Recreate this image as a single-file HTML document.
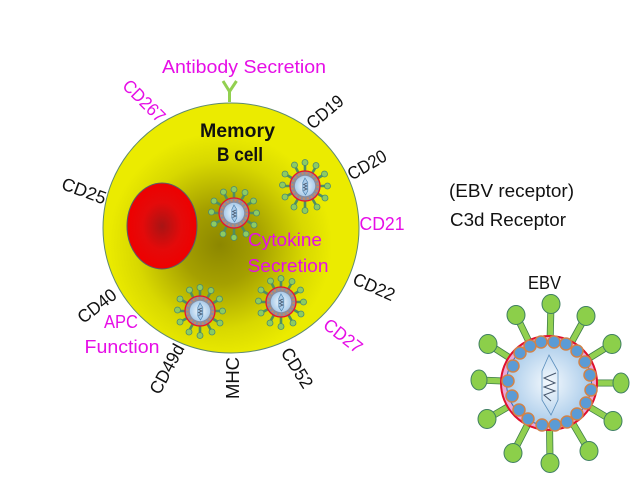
<!DOCTYPE html>
<html><head><meta charset="utf-8"><style>
html,body{margin:0;padding:0;background:#fff}
svg{display:block}
text{font-family:"Liberation Sans",sans-serif;font-size:18px;fill:#111}
.m{fill:#e60ee6}
.c{text-anchor:middle}
.b{font-weight:bold;font-size:19px}
</style></head><body>
<svg width="640" height="480" viewBox="0 0 640 480" xmlns="http://www.w3.org/2000/svg">
<defs>
<radialGradient id="cell" gradientUnits="userSpaceOnUse" cx="220" cy="245" r="112"><stop offset="0" stop-color="#8c8700"/><stop offset=".35" stop-color="#a5a000"/><stop offset=".75" stop-color="#d8d800"/><stop offset="1" stop-color="#ebeb00"/></radialGradient>
<radialGradient id="red"><stop offset="0" stop-color="#a81414"/><stop offset=".55" stop-color="#e40a0a"/><stop offset="1" stop-color="#ee0000"/></radialGradient>
<radialGradient id="core"><stop offset="0" stop-color="#f4f9fd"/><stop offset="1" stop-color="#a9cbea"/></radialGradient>
<g id="v">
<g stroke="#3f7f4a" stroke-width="7"><path d="M0 0L2 -79M0 0L37 -67M0 0L63 -39M0 0L72 0M0 0L64 38M0 0L40 68M0 0L1 80M0 0L-36 70M0 0L-62 36M0 0L-70 -3M0 0L-61 -39M0 0L-33 -68"/></g>
<g stroke="#92d050" stroke-width="5.4"><path d="M0 0L2 -79M0 0L37 -67M0 0L63 -39M0 0L72 0M0 0L64 38M0 0L40 68M0 0L1 80M0 0L-36 70M0 0L-62 36M0 0L-70 -3M0 0L-61 -39M0 0L-33 -68"/></g>
<g fill="#8ccf4a" stroke="#3f7f62" stroke-width="1">
<ellipse cx="2" cy="-79" rx="9" ry="9.5"/><ellipse cx="37" cy="-67" rx="9" ry="9.5"/><ellipse cx="63" cy="-39" rx="9" ry="9.5"/><ellipse cx="72" cy="0" rx="8" ry="10"/><ellipse cx="64" cy="38" rx="9" ry="9.5"/><ellipse cx="40" cy="68" rx="9" ry="9.5"/><ellipse cx="1" cy="80" rx="9" ry="9.5"/><ellipse cx="-36" cy="70" rx="9" ry="9.5"/><ellipse cx="-62" cy="36" rx="9" ry="9.5"/><ellipse cx="-70" cy="-3" rx="8" ry="10"/><ellipse cx="-61" cy="-39" rx="9" ry="9.5"/><ellipse cx="-33" cy="-68" rx="9" ry="9.5"/>
</g>
<ellipse cx="0" cy="0" rx="48" ry="47" fill="#e8a8d8" stroke="#e0102c" stroke-width="2"/>
<circle r="42.5" fill="url(#core)" stroke="#2f6fc0" stroke-width="1"/>
<g fill="#5b9bd5" stroke="#d0834a" stroke-width="1.5">
<circle cx="-8" cy="-41" r="6"/><circle cx="5" cy="-41" r="6"/><circle cx="17" cy="-39" r="6"/><circle cx="28" cy="-32" r="6"/><circle cx="36" cy="-21" r="6"/><circle cx="41" cy="-8" r="6"/><circle cx="42" cy="7" r="6"/><circle cx="37" cy="20" r="6"/><circle cx="28" cy="31" r="6"/><circle cx="18" cy="39" r="6"/><circle cx="6" cy="42" r="6"/><circle cx="-7" cy="42" r="6"/><circle cx="-21" cy="36" r="6"/><circle cx="-30" cy="27" r="6"/><circle cx="-37" cy="13" r="6"/><circle cx="-41" cy="-2" r="6"/><circle cx="-36" cy="-17" r="6"/><circle cx="-29" cy="-30" r="6"/><circle cx="-19" cy="-37" r="6"/>
</g>
<path d="M0 -28L9 -12L9 17L2 32L-7 17L-7 -12Z" fill="none" stroke="#5b8fbd" stroke-width=".8"/>
<path d="M7 -10L-5 -5L6 0L-5 4L6 8L-5 12L2 18" fill="none" stroke="#44546a" stroke-width="1"/>
</g>
<g id="s">
<path d="M0 0L0 -22M0 0L11 -19.500M0 0L19 -11.500M0 0L21 0M0 0L19 11.500M0 0L11.500 20M0 0L0 23M0 0L-11 20M0 0L-19 10.500M0 0L-21 0M0 0L-19 -11.500M0 0L-10 -20" stroke="#4f8f5f" stroke-width="2.600"/>
<g fill="#8ccb62" stroke="#4a8a72" stroke-width=".8">
<circle cx="0" cy="-23.500" r="3"/><circle cx="11" cy="-20.500" r="3"/><circle cx="19.500" cy="-12" r="3"/><circle cx="22.500" cy="0" r="3"/><circle cx="20" cy="12" r="3"/><circle cx="12" cy="21" r="3"/><circle cx="0" cy="24.500" r="3"/><circle cx="-11" cy="21" r="3"/><circle cx="-20" cy="11" r="3"/><circle cx="-22.500" cy="-1" r="3"/><circle cx="-20" cy="-12" r="3"/><circle cx="-10.500" cy="-21" r="3"/>
</g>
<circle r="15" fill="#8a8c9c" stroke="#e8142c" stroke-width="1.300"/>
<circle r="12.700" fill="none" stroke="#c98a60" stroke-width="2" stroke-dasharray="2 2"/>
<circle r="10.200" fill="url(#core)"/>
<path d="M0 -8L2.800 -3.500L2.800 5L0.500 9L-2.200 5L-2.200 -3.500Z" fill="#a9cbea" stroke="#4f84b0" stroke-width=".7"/>
<path d="M2 -3L-1.500 -1.500L2 0L-1.500 1.500L2 3L-1.500 4.500" fill="none" stroke="#44546a" stroke-width=".7"/>
</g>
</defs>
<path d="M229.500 102V91.500M229.500 91.500L223 81M229.500 91.500L236.500 81" stroke="#92d050" stroke-width="3" fill="none"/>
<ellipse cx="231" cy="228" rx="128" ry="125" fill="url(#cell)" stroke="#5f8a70" stroke-width="1"/>
<ellipse cx="162" cy="226" rx="35" ry="43" fill="url(#red)" stroke="#55606a" stroke-width="1"/>
<use href="#s" transform="translate(234 213)"/>
<use href="#s" transform="translate(305 186)"/>
<use href="#s" transform="translate(281 302)"/>
<use href="#s" transform="translate(200 311)"/>
<use href="#v" transform="translate(549 383)"/>
<text class="m" x="162" y="73" textLength="164" lengthAdjust="spacingAndGlyphs">Antibody Secretion</text>
<text x="237.500" y="137" class="c b" textLength="75" lengthAdjust="spacingAndGlyphs">Memory</text>
<text x="240" y="161" class="c b" textLength="46" lengthAdjust="spacingAndGlyphs">B cell</text>
<text class="m c" x="285" y="246" textLength="74" lengthAdjust="spacingAndGlyphs">Cytokine</text>
<text class="m c" x="288" y="272" textLength="81" lengthAdjust="spacingAndGlyphs">Secretion</text>
<text class="m c" x="121" y="328" textLength="34" lengthAdjust="spacingAndGlyphs">APC</text>
<text class="m c" x="122" y="353" textLength="75" lengthAdjust="spacingAndGlyphs">Function</text>
<text x="449" y="197" textLength="125" lengthAdjust="spacingAndGlyphs">(EBV receptor)</text>
<text x="450" y="226" textLength="116" lengthAdjust="spacingAndGlyphs">C3d Receptor</text>
<text x="528" y="289" textLength="33" lengthAdjust="spacingAndGlyphs">EBV</text>
<text class="m c" transform="translate(144 101) rotate(45) translate(0 6)" textLength="52" lengthAdjust="spacingAndGlyphs">CD267</text>
<text class="c" transform="translate(325 112) rotate(-40) translate(0 6)" textLength="42" lengthAdjust="spacingAndGlyphs">CD19</text>
<text class="c" transform="translate(367 165) rotate(-30) translate(0 6)" textLength="42" lengthAdjust="spacingAndGlyphs">CD20</text>
<text class="m c" x="382" y="230" textLength="45" lengthAdjust="spacingAndGlyphs">CD21</text>
<text class="c" transform="translate(374 287) rotate(24) translate(0 6)" textLength="44" lengthAdjust="spacingAndGlyphs">CD22</text>
<text class="m c" transform="translate(343 336) rotate(38) translate(0 6)" textLength="44" lengthAdjust="spacingAndGlyphs">CD27</text>
<text class="c" transform="translate(297 368) rotate(58) translate(0 6)" textLength="44" lengthAdjust="spacingAndGlyphs">CD52</text>
<text class="c" transform="translate(233 378) rotate(-90) translate(0 6)" textLength="42" lengthAdjust="spacingAndGlyphs">MHC</text>
<text class="c" transform="translate(167 369) rotate(-62) translate(0 6)" textLength="54" lengthAdjust="spacingAndGlyphs">CD49d</text>
<text class="c" transform="translate(97 306) rotate(-38) translate(0 6)" textLength="44" lengthAdjust="spacingAndGlyphs">CD40</text>
<text class="c" transform="translate(84 191) rotate(20) translate(0 6)" textLength="46" lengthAdjust="spacingAndGlyphs">CD25</text>
</svg>
</body></html>
